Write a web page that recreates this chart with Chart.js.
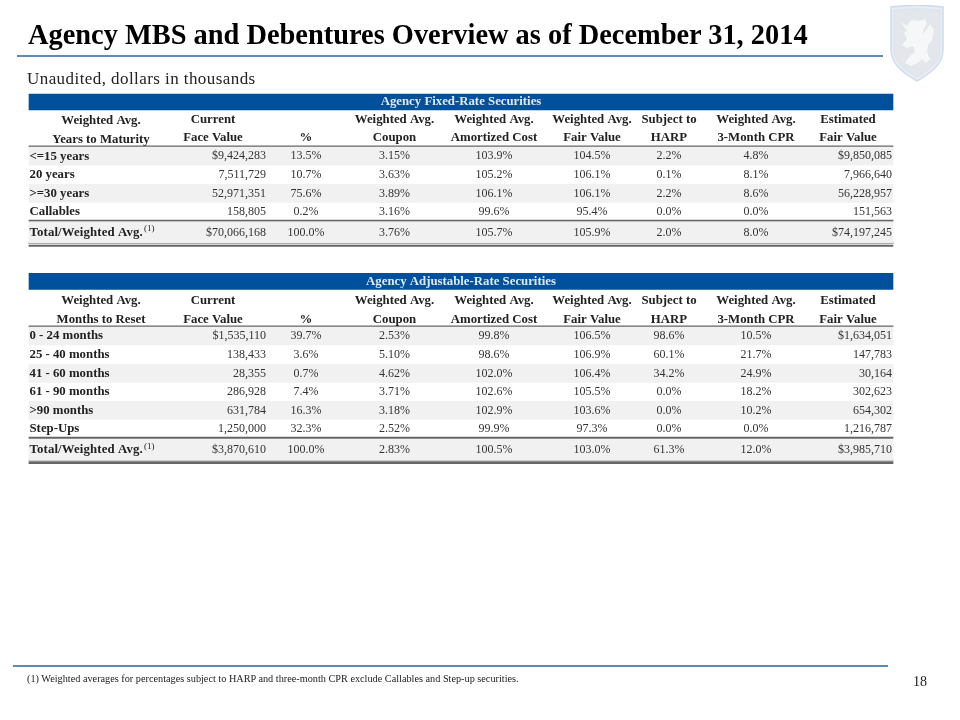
<!DOCTYPE html>
<html>
<head>
<meta charset="utf-8">
<script src="https://cdn.jsdelivr.net/npm/chart.js@4"></script>
<style>
html,body{margin:0;padding:0;background:#fff;}
#page{position:relative;width:960px;height:720px;overflow:hidden;font-family:"Liberation Serif",serif;color:#000;}
#page canvas{position:absolute;left:0;top:0;}
.t{position:absolute;white-space:nowrap;line-height:1;}
.r{position:absolute;}
</style>
</head>
<body>
<div id="page">
  <canvas id="c" width="960" height="720"></canvas>
  <div class="t" style="left:28px;top:21px;font-size:28.4px;font-weight:bold;">Agency MBS and Debentures Overview as of December 31, 2014</div>
  <div class="r" style="left:17px;top:55px;width:866px;height:2px;background:#5f8ab8;"></div>
  <div class="t" style="left:27px;top:70px;font-size:17px;letter-spacing:0.43px;color:#222;">Unaudited, dollars in thousands</div>
  <div class="r" style="left:13px;top:665px;width:875px;height:2px;background:#5f8ab8;"></div>
  <div class="t" style="left:27px;top:674px;font-size:10.25px;color:#222;">(1) Weighted averages for percentages subject to HARP and three-month CPR exclude Callables and Step-up securities.</div>
  <div class="t" style="left:913px;top:675px;font-size:14px;color:#222;">18</div>
  <svg style="position:absolute;left:889px;top:5px;" width="56" height="78" viewBox="0 0 56 78">
    <path d="M2 2 C18 0 38 0 54 2 L54 45 C54 60 40 69 28 76 C16 69 2 60 2 45 Z" fill="#e9edf3" stroke="#cfdcec" stroke-width="1.5"/>
    <path d="M5 5 C20 3.5 36 3.5 51 5 L51 44 C51 58 38 66 28 72 C18 66 5 58 5 44 Z" fill="#e3e6eb" stroke="#d8e3f0" stroke-width="1"/>
    <path d="M12 17 L18 21 L22 15 L31 16 L36 14 L38 19 L35 23 L33 29 L38 24 L41 19 L45 25 L43 35 L39 40 L38 47 L41 54 L37 58 L33 54 L30 57 L22 61 L16 58 L20 52 L26 47 L24 41 L18 43 L13 40 L18 34 L15 28 L18 26 Z" fill="#f6f7f9"/>
  </svg>
</div>
<script>
// ---- table 1: Agency Fixed-Rate Securities ----
const fixedTitle = "Agency Fixed-Rate Securities";
const fixedStub = ["Weighted Avg.", "Years to Maturity"];
const fixedRows = ["<=15 years", "20 years", ">=30 years", "Callables", "Total/Weighted Avg."];
const fixedFace = ["$9,424,283", "7,511,729", "52,971,351", "158,805", "$70,066,168"];
const fixedPct = ["13.5%", "10.7%", "75.6%", "0.2%", "100.0%"];
const fixedCoupon = ["3.15%", "3.63%", "3.89%", "3.16%", "3.76%"];
const fixedAmort = ["103.9%", "105.2%", "106.1%", "99.6%", "105.7%"];
const fixedFair = ["104.5%", "106.1%", "106.1%", "95.4%", "105.9%"];
const fixedHarp = ["2.2%", "0.1%", "2.2%", "0.0%", "2.0%"];
const fixedCpr = ["4.8%", "8.1%", "8.6%", "0.0%", "8.0%"];
const fixedValue = ["$9,850,085", "7,966,640", "56,228,957", "151,563", "$74,197,245"];

// ---- table 2: Agency Adjustable-Rate Securities ----
const armTitle = "Agency Adjustable-Rate Securities";
const armStub = ["Weighted Avg.", "Months to Reset"];
const armRows = ["0 - 24 months", "25 - 40 months", "41 - 60 months", "61 - 90 months", ">90 months", "Step-Ups", "Total/Weighted Avg."];
const armFace = ["$1,535,110", "138,433", "28,355", "286,928", "631,784", "1,250,000", "$3,870,610"];
const armPct = ["39.7%", "3.6%", "0.7%", "7.4%", "16.3%", "32.3%", "100.0%"];
const armCoupon = ["2.53%", "5.10%", "4.62%", "3.71%", "3.18%", "2.52%", "2.83%"];
const armAmort = ["99.8%", "98.6%", "102.0%", "102.6%", "102.9%", "99.9%", "100.5%"];
const armFair = ["106.5%", "106.9%", "106.4%", "105.5%", "103.6%", "97.3%", "103.0%"];
const armHarp = ["98.6%", "60.1%", "34.2%", "0.0%", "0.0%", "0.0%", "61.3%"];
const armCpr = ["10.5%", "21.7%", "24.9%", "18.2%", "10.2%", "0.0%", "12.0%"];
const armValue = ["$1,634,051", "147,783", "30,164", "302,623", "654,302", "1,216,787", "$3,985,710"];

// ---- shared column headings ----
const headingTop = ["Current", "", "Weighted Avg.", "Weighted Avg.", "Weighted Avg.", "Subject to", "Weighted Avg.", "Estimated"];
const headingBottom = ["Face Value", "%", "Coupon", "Amortized Cost", "Fair Value", "HARP", "3-Month CPR", "Fair Value"];

// ---- layout in scale units (x: 96 columns units, y: 36 row units) ----
const tableLeft = 2.9, tableRight = 89.3, stubCentre = 10.1;
const headCentres = [21.3, 30.6, 39.45, 49.4, 59.2, 66.9, 75.6, 84.8];
const cellAnchors = [26.6, 30.6, 39.45, 49.4, 59.2, 66.9, 75.6, 89.2];
const cellAligns = ["right", "center", "center", "center", "center", "center", "center", "right"];

const fixedSlots = {band: 5.1, head: [5.97, 6.9], stubHead: [6.05, 6.97], rows: [7.81, 8.75, 9.67, 10.6, 11.63], line1: 7.32, line2: 11.03, dbl: [12.15, 12.29]};
const armSlots = {band: 14.07, head: [15.03, 15.97], stubHead: [15.03, 15.97], rows: [16.8, 17.74, 18.67, 19.58, 20.52, 21.45, 22.5], line1: 16.32, line2: 21.89, dbl: [23.04, 23.15]};

const tables = [
  {title: fixedTitle, stub: fixedStub, rows: fixedRows, cols: [fixedFace, fixedPct, fixedCoupon, fixedAmort, fixedFair, fixedHarp, fixedCpr, fixedValue], s: fixedSlots},
  {title: armTitle, stub: armStub, rows: armRows, cols: [armFace, armPct, armCoupon, armAmort, armFair, armHarp, armCpr, armValue], s: armSlots}
];

const span = y => ({x: [tableLeft, tableRight], y});
const oddRows = t => t.s.rows.filter((_, i) => i % 2 === 0 && i < t.rows.length - 1).map(span);
const totals = t => [span(t.s.rows[t.rows.length - 1])];

const bar = (data, color, thick) => ({type: "bar", data, backgroundColor: color, barThickness: thick, borderWidth: 0});

const datasets = [
  bar(tables.map(t => span(t.s.band)), "#00509b", 16),
  bar(tables.flatMap(oddRows), "#f1f1f1", 18),
  bar(tables.flatMap(totals), "#f1f1f1", 21),
  bar(tables.flatMap(t => [span(t.s.line1), span(t.s.line2)]), "#666666", 1.2),
  bar(tables.flatMap(t => t.s.dbl.map(span)), "#666666", 1.4)
];

const tablePlugin = {
  id: "tableText",
  afterDatasetsDraw(chart) {
    const {ctx, scales: {x, y}} = chart;
    const serif = '"Liberation Serif", serif';
    const put = (text, cx, cy, font, color, align, spacing) => {
      ctx.font = font;
      ctx.letterSpacing = (spacing || 0) + "px";
      ctx.fillStyle = color;
      ctx.textAlign = align;
      ctx.textBaseline = "middle";
      ctx.fillText(text, x.getPixelForValue(cx), y.getPixelForValue(cy));
    };
    const boldFont = "bold 12.8px " + serif, cellFont = "12px " + serif;
    const mid = (tableLeft + tableRight) / 2;
    ctx.save();
    tables.forEach(t => {
      put(t.title, mid, t.s.band, boldFont, "#dfe8f2", "center");
      t.stub.forEach((s, i) => put(s, stubCentre, t.s.stubHead[i], boldFont, "#222", "center"));
      headCentres.forEach((c, i) => {
        put(headingTop[i], c, t.s.head[0], boldFont, "#222", "center");
        put(headingBottom[i], c, t.s.head[1], boldFont, "#222", "center");
      });
      t.rows.forEach((name, r) => {
        const yy = t.s.rows[r];
        const isTotal = r === t.rows.length - 1;
        put(name, tableLeft + 0.05, yy, boldFont, "#222", "left", isTotal ? 0.13 : 0);
        if (isTotal) {
          const w = ctx.measureText(name).width;
          put("(1)", tableLeft + 0.05 + (w + 1) / 10, yy - 0.18, "9px " + serif, "#222", "left");
        }
        t.cols.forEach((col, c) => put(col[r], cellAnchors[c], yy, cellFont, "#333", cellAligns[c]));
      });
    });
    ctx.restore();
  }
};

new Chart(document.getElementById("c"), {
  data: {datasets},
  plugins: [tablePlugin],
  options: {
    indexAxis: "y",
    responsive: false,
    animation: false,
    events: [],
    layout: {padding: 0},
    plugins: {legend: {display: false}, tooltip: {enabled: false}, title: {display: false}},
    scales: {
      x: {type: "linear", min: 0, max: 96, display: false},
      y: {type: "linear", min: 0, max: 36, reverse: true, stacked: true, offset: false, display: false}
    }
  }
});
</script>
</body>
</html>
